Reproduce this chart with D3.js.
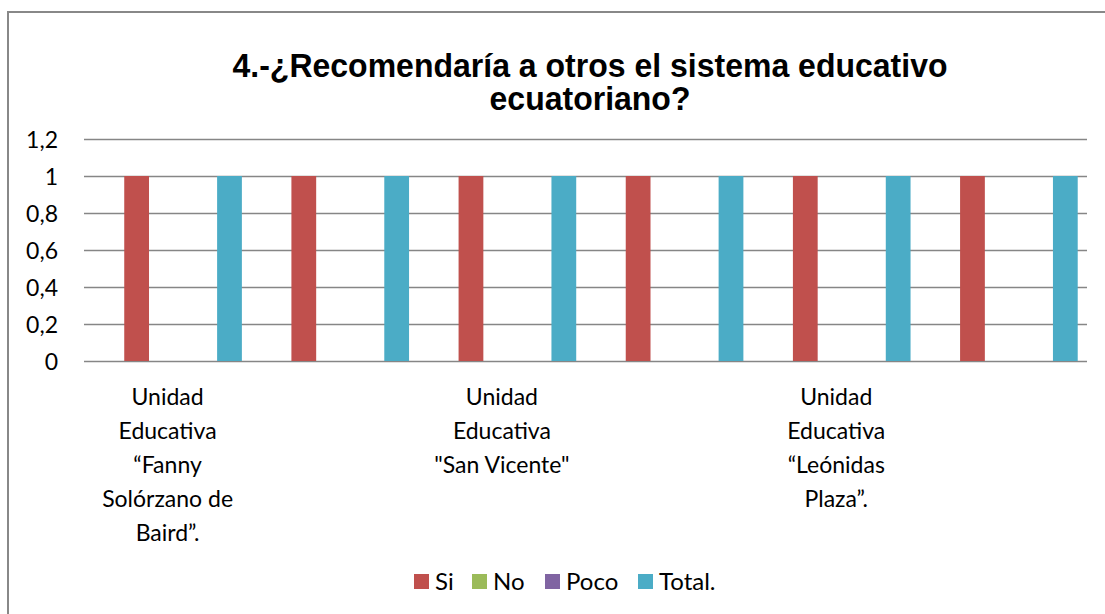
<!DOCTYPE html>
<html>
<head>
<meta charset="utf-8">
<script src="https://cdn.jsdelivr.net/npm/d3@7"></script>
<style>
  body { margin: 0; background: #fff; }
  svg { display: block; }
  .lbl { font-family: Lato, "Open Sans", sans-serif; font-size: 23px; fill: #000; }
  .leg { font-family: Lato, "Open Sans", sans-serif; font-size: 24px; fill: #000; }
  .title { font-family: "Liberation Sans Narrow", "Arial Narrow", "Liberation Sans", sans-serif; font-weight: bold; font-size: 33px; fill: #000; }
</style>
</head>
<body>
<svg id="chart" width="1105" height="614"></svg>
<script>
// category labels, already wrapped the way the chart wraps them
// (every second category has its label skipped by the axis)
const categories = [
  ["Unidad", "Educativa", "“Fanny", "Solórzano de", "Baird”."],
  [""],
  ["Unidad", "Educativa", "\"San Vicente\""],
  [""],
  ["Unidad", "Educativa", "“Leónidas", "Plaza”."],
  [""]
];
// first series is an empty one that only takes up a slot
const seriesNames = ["", "Si", "No", "Poco", "Total."];
const blankValues = [null, null, null, null, null, null];
const siValues = [1, 1, 1, 1, 1, 1];
const noValues = [0, 0, 0, 0, 0, 0];
const pocoValues = [0, 0, 0, 0, 0, 0];
const totalValues = [1, 1, 1, 1, 1, 1];
const yTicks = [0, 0.2, 0.4, 0.6, 0.8, 1, 1.2];
const colors = ["none", "#c0504d", "#9bbb59", "#8064a2", "#4bacc6"];

const seriesValues = [blankValues, siValues, noValues, pocoValues, totalValues];

const svg = d3.select("#chart");
const margin = { top: 139, right: 18, bottom: 253, left: 84 };
const width = +svg.attr("width") - margin.left - margin.right;
const height = +svg.attr("height") - margin.top - margin.bottom;

// outer border
svg.append("rect")
  .attr("x", 8).attr("y", 12)
  .attr("width", 1120).attr("height", 640)
  .attr("fill", "#fff")
  .attr("stroke", "#888888")
  .attr("stroke-width", 2);

// title, squeezed a little like the original
const title = svg.append("g")
  .attr("transform", "translate(590, 0) scale(0.97, 1)")
  .append("text")
  .attr("class", "title")
  .attr("text-anchor", "middle");
title.append("tspan").attr("x", 0).attr("y", 77).text("4.-¿Recomendaría a otros el sistema educativo");
title.append("tspan").attr("x", 0).attr("y", 110).text("ecuatoriano?");

const g = svg.append("g")
  .attr("transform", `translate(${margin.left}, ${margin.top})`);

const x0 = d3.scaleBand()
  .domain(d3.range(categories.length))
  .range([0, width])
  .padding(0);

const x1 = d3.scaleBand()
  .domain(d3.range(seriesNames.length))
  .range([0, x0.bandwidth()])
  .paddingInner(0.2)
  .paddingOuter(0.3);

const y = d3.scaleLinear()
  .domain([0, 1.2])
  .range([height, 0]);

const fmt = v => String(+v.toFixed(1)).replace(".", ",");

const yAxis = d3.axisLeft(y)
  .tickValues(yTicks)
  .tickSize(-width)
  .tickFormat(fmt);

function customYAxis(s) {
  s.call(yAxis);
  s.select(".domain").remove();
  s.selectAll(".tick line")
    .attr("stroke", "#868686")
    .attr("stroke-width", 1.5);
  s.selectAll(".tick text")
    .attr("class", "lbl")
    .attr("x", -26)
    .attr("dy", "0.35em");
}

g.append("g").call(customYAxis);

// bars
const groups = g.selectAll(".cat")
  .data(categories)
  .enter()
  .append("g")
  .attr("class", "cat")
  .attr("transform", (d, i) => `translate(${x0(i)}, 0)`);

groups.selectAll("rect")
  .data((d, i) => seriesValues.map((vals, s) => ({ s: s, value: vals[i] })))
  .enter()
  .filter(d => d.value !== null && d.value > 0)
  .append("rect")
  .attr("x", d => x1(d.s))
  .attr("y", d => y(d.value))
  .attr("width", x1.bandwidth())
  .attr("height", d => y(0) - y(d.value))
  .attr("fill", d => colors[d.s]);

// category labels
groups.append("text")
  .attr("class", "lbl")
  .attr("text-anchor", "middle")
  .selectAll("tspan")
  .data(d => d)
  .enter()
  .append("tspan")
  .attr("x", x0.bandwidth() / 2)
  .attr("y", (d, i) => height + 44 + i * 34)
  .text(d => d);

// legend
const legendItems = seriesNames.slice(1);
const legendX = [414, 472, 545, 638];
const legend = svg.append("g").attr("transform", "translate(0, 574)");
const li = legend.selectAll("g")
  .data(legendItems)
  .enter()
  .append("g")
  .attr("transform", (d, i) => `translate(${legendX[i]}, 0)`);
li.append("rect")
  .attr("width", 15).attr("height", 15)
  .attr("fill", (d, i) => colors[i + 1]);
li.append("text")
  .attr("class", "leg")
  .attr("x", 21)
  .attr("y", 16)
  .text(d => d);
</script>
</body>
</html>
